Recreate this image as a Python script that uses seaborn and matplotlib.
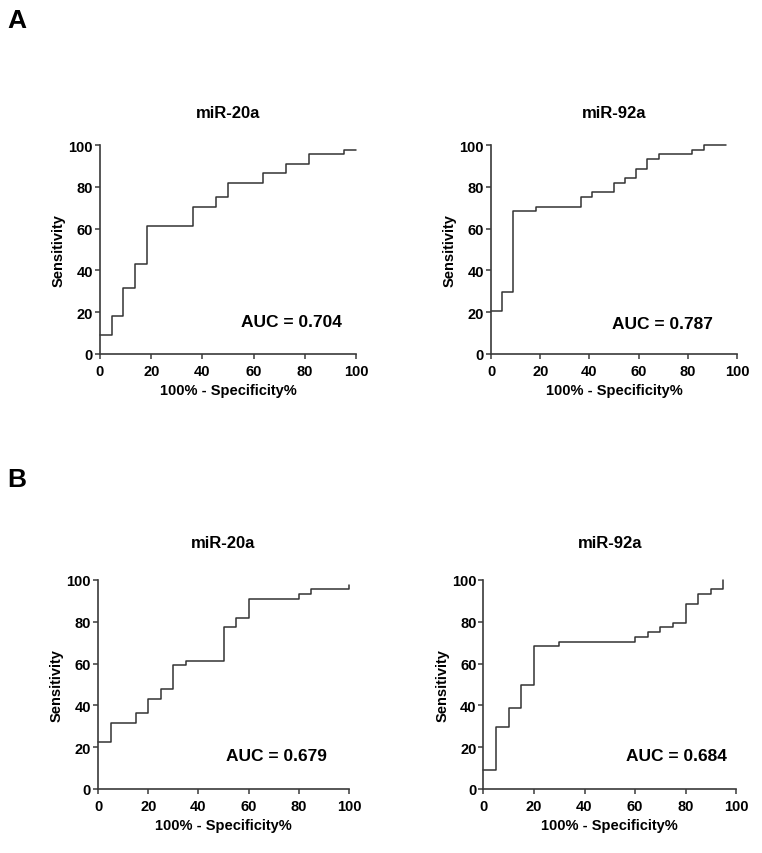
import pandas as pd
import matplotlib
matplotlib.use("Agg")
import matplotlib.pyplot as plt
import seaborn as sns

# ROC step points: (100% - specificity, sensitivity)
a_mir20_x = [0, 4.5, 9.1, 13.6, 18.2, 36.4, 45.5, 50.0, 63.6, 72.7, 81.8, 95.5, 100]
a_mir20_y = [9.1, 18.2, 31.8, 43.2, 61.4, 70.5, 75.0, 81.8, 86.4, 90.9, 95.5, 97.7, 97.7]

a_mir92_x = [0, 4.5, 9.1, 18.2, 36.4, 40.9, 50.0, 54.5, 59.1, 63.6, 68.2, 81.8, 86.4, 95.5]
a_mir92_y = [20.5, 29.5, 68.2, 70.5, 75.0, 77.3, 81.8, 84.1, 88.6, 93.2, 95.5, 97.7, 100, 100]

b_mir20_x = [0, 5, 15, 20, 25, 30, 35, 50, 55, 60, 80, 85, 100]
b_mir20_y = [22.7, 31.8, 36.4, 43.2, 47.7, 59.1, 61.4, 77.3, 81.8, 90.9, 93.2, 95.5, 97.7]

b_mir92_x = [0, 5, 10, 15, 20, 30, 60, 65, 70, 75, 80, 85, 90, 95]
b_mir92_y = [9.1, 29.5, 38.6, 50.0, 68.2, 70.5, 72.7, 75.0, 77.3, 79.5, 88.6, 93.2, 95.5, 100]

titles = ["miR-20a", "miR-92a", "miR-20a", "miR-92a"]
auc_labels = ["AUC = 0.704", "AUC = 0.787", "AUC = 0.679", "AUC = 0.684"]
ticks = [0, 20, 40, 60, 80, 100]

sns.set_style("ticks")
plt.rcParams["font.family"] = ["Liberation Sans", "DejaVu Sans"]
plt.rcParams["text.color"] = "black"
plt.rcParams["axes.labelcolor"] = "black"
plt.rcParams["xtick.color"] = "black"
plt.rcParams["ytick.color"] = "black"

W, H = 762, 854
fig = plt.figure(figsize=(W / 100, H / 100), dpi=100)

# axes boxes in pixels: left, right, top, bottom
boxes = [(100, 356, 146, 355), (491, 737, 146, 355),
         (98, 349, 581, 790), (483.5, 736, 581, 790)]
title_pads = [20, 20, 24, 24]
auc_pos = [(74.6, 15.7), (69.5, 14.7), (71.2, 16.1), (76.6, 16.0)]
curves = [(a_mir20_x, a_mir20_y), (a_mir92_x, a_mir92_y),
          (b_mir20_x, b_mir20_y), (b_mir92_x, b_mir92_y)]

edge = "#3a3a3a"
for i, (l, r, t, b) in enumerate(boxes):
    ax = fig.add_axes([l / W, 1 - b / H, (r - l) / W, (b - t) / H])
    xs, ys = curves[i]
    df = pd.DataFrame({"fpr": xs, "sens": ys})
    sns.lineplot(data=df, x="fpr", y="sens", ax=ax, estimator=None, sort=False,
                 drawstyle="steps-post", color="#333333", linewidth=1.1,
                 clip_on=False)
    ax.set_xlim(0, 100)
    ax.set_ylim(0, 100)
    ax.set_xticks(ticks)
    ax.set_yticks(ticks)
    for lab in ax.get_xticklabels() + ax.get_yticklabels():
        lab.set_fontweight("bold")
        lab.set_fontsize(10.5)
    ax.tick_params(length=3.5, width=1.1, color=edge, labelcolor="black")
    ax.tick_params(axis="x", pad=4)
    ax.tick_params(axis="y", pad=1.5)
    sns.despine(ax=ax)
    for s in ["left", "bottom"]:
        ax.spines[s].set_color(edge)
        ax.spines[s].set_linewidth(1.2)
    ax.set_xlabel("100% - Specificity%", fontsize=10.5, fontweight="bold", labelpad=3)
    ax.set_ylabel("Sensitivity", fontsize=10.5, fontweight="bold", labelpad=2)
    ax.set_title(titles[i], fontsize=12, fontweight="bold", pad=title_pads[i])
    ax.text(auc_pos[i][0], auc_pos[i][1], auc_labels[i], ha="center", va="center",
            fontsize=12.5, fontweight="bold")

fig.text(7 / W, 1 - 21 / H, "A", fontsize=19, fontweight="bold", va="center")
fig.text(7 / W, 1 - 480 / H, "B", fontsize=19, fontweight="bold", va="center")

fig.savefig("out.png", dpi=100, facecolor="white")
